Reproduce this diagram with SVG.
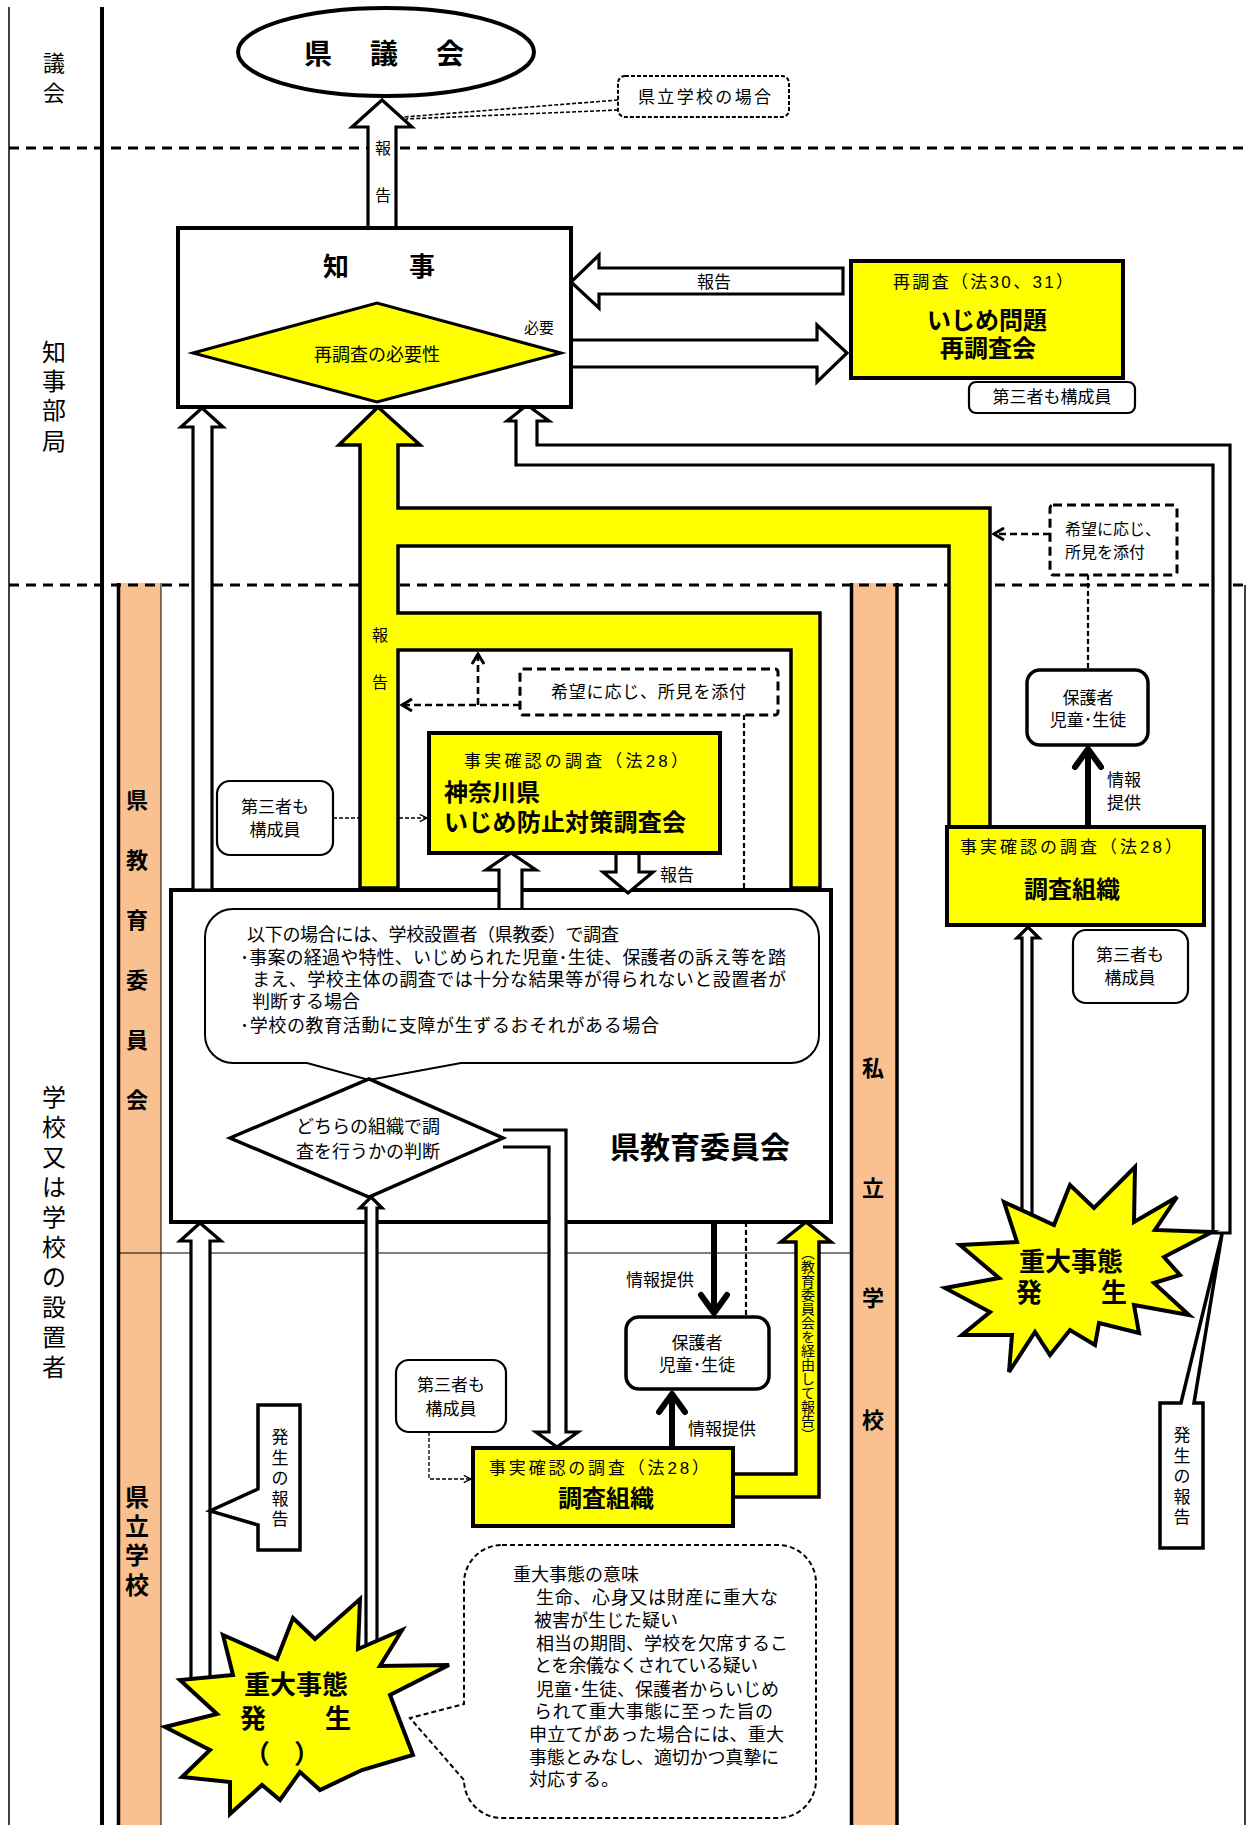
<svg xmlns="http://www.w3.org/2000/svg" width="1248" height="1825" viewBox="0 0 1248 1825">
<style>
.t{font-family:"Liberation Sans","Noto Sans CJK JP",sans-serif;fill:#000}
.b{font-weight:bold}
.box{fill:#fff;stroke:#000;stroke-width:4}
.yel{fill:#ffff00;stroke:#000;stroke-width:4}
.hol{fill:#fff;stroke:#000;stroke-width:3.2;stroke-linejoin:miter}
.ylp{fill:#ffff00;stroke:#000;stroke-width:3.5}
.rnd{fill:#fff;stroke:#000;stroke-width:2.2}
.lane{stroke:#000;stroke-width:3;stroke-dasharray:10 7;fill:none}
.dsh{fill:none;stroke:#000;stroke-width:2.6;stroke-dasharray:7 4}
.dshv{fill:none;stroke:#000;stroke-width:2.2;stroke-dasharray:5 3}
.thin{fill:none;stroke:#000;stroke-width:1.3;stroke-dasharray:4 2}
.thick{fill:none;stroke:#000;stroke-width:6}
.chev{fill:none;stroke:#000;stroke-width:6;stroke-linecap:round;stroke-linejoin:round}
.org{fill:#f9c18f}
</style>
<defs>
<marker id="ah" viewBox="0 0 10 10" refX="9" refY="5" markerWidth="9" markerHeight="9" orient="auto" markerUnits="userSpaceOnUse"><path d="M1,1 L9,5 L1,9" fill="none" stroke="#000" stroke-width="1.5"/></marker>
<marker id="ahd" viewBox="0 0 14 14" refX="12" refY="7" markerWidth="14" markerHeight="14" orient="auto" markerUnits="userSpaceOnUse"><path d="M2,1 L12,7 L2,13" fill="none" stroke="#000" stroke-width="3"/></marker>
</defs>
<rect width="1248" height="1825" fill="#fff"/>

<g id="lanes">
<rect class="org" x="117" y="583" width="44" height="1242"/>
<line x1="118.5" y1="583" x2="118.5" y2="1825" stroke="#000" stroke-width="3.5"/>
<line x1="161" y1="583" x2="161" y2="1825" stroke="#000" stroke-width="1"/>
<rect class="org" x="850" y="583" width="48" height="1242"/>
<line x1="851.5" y1="583" x2="851.5" y2="1825" stroke="#000" stroke-width="3.5"/>
<line x1="897" y1="583" x2="897" y2="1825" stroke="#000" stroke-width="3.5"/>
<line x1="9" y1="7" x2="9" y2="1825" stroke="#000" stroke-width="1.5"/>
<line x1="102" y1="7" x2="102" y2="1825" stroke="#000" stroke-width="4"/>
<line x1="1245" y1="585" x2="1245" y2="1825" stroke="#000" stroke-width="1.5"/>
<line class="lane" x1="9" y1="148" x2="1248" y2="148"/>
<line class="lane" x1="9" y1="585" x2="1248" y2="585"/>
<line x1="117" y1="1253" x2="850" y2="1253" stroke="#000" stroke-width="1.2"/>
<text class="t" font-size="22" x="54 54" y="71 101" text-anchor="middle">議会</text>
<text class="t" font-size="24" x="54 54 54 54" y="361 390 419 450" text-anchor="middle">知事部局</text>
<text class="t" font-size="24" x="54 54 54 54 54 54 54 54 54 54" y="1106 1136 1166 1196 1226 1256 1286 1316 1346 1376" text-anchor="middle">学校又は学校の設置者</text>
<text class="t b" font-size="22" x="137 137 137 137 137 137" y="808 868 928 988 1048 1108" text-anchor="middle">県教育委員会</text>
<text class="t b" font-size="24" x="137 137 137 137" y="1506 1535 1564 1594" text-anchor="middle">県立学校</text>
<text class="t b" font-size="22" x="873 873 873 873" y="1076 1196 1306 1428" text-anchor="middle">私立学校</text>
</g>

<g id="edboard">
<rect class="box" x="171" y="890" width="660" height="332"/>
<text class="t b" font-size="30" x="700" y="1158" text-anchor="middle">県教育委員会</text>
</g>

<g id="connectors">
<path class="thin" d="M333,818 H427" marker-end="url(#ah)"/>
<path class="thin" d="M429,1432 V1479 H471" marker-end="url(#ah)"/>
<polygon class="ylp" points="378,407 420,445 398,445 398,508 990,508 990,827 949,827 949,546 398,546 398,613 820,613 820,888 791,888 791,650 398,650 398,888 360,888 360,445 339,445"/>
<polygon class="hol" points="368,228 368,127 352,127 382,100 412,127 396,127 396,228"/>
<polygon class="hol" points="843,268 599,268 599,255 571,282 599,308 599,294 843,294"/>
<polygon class="hol" points="571,340 817,340 817,325 847,353 817,382 817,367 571,367"/>
<polygon class="hol" points="193,890 193,427 181,427 202,408 223,427 212,427 212,890"/>
<polygon class="hol" points="516,465 516,421 507,421 527,405 549,421 537,421 537,445 1230,445 1230,1233 1213,1233 1213,465"/>
<polygon class="hol" points="499,912 499,870 486,870 511,853 536,870 522,870 522,912"/>
<polygon class="hol" points="616,853 616,872 603,872 628,893 653,872 639,872 639,853"/>
<polygon class="hol" points="191,1690 191,1241 180,1241 200,1223 221,1241 210,1241 210,1690"/>
<polygon class="hol" points="1022,1228 1022,938 1017,938 1028,927 1039,938 1032,938 1032,1228"/>
<path class="ylp" d="M733,1474 H796 V1242 H781 L806,1222 L831,1242 H819 V1497 H733"/>
<path class="dsh" d="M520,705 H402" marker-end="url(#ahd)"/>
<path class="dsh" d="M478,705 V654" marker-end="url(#ahd)"/>
<path class="dsh" d="M1050,534 H994" marker-end="url(#ahd)"/>
<path class="dshv" d="M744,715 V888"/>
<path class="dshv" d="M746,1222 V1317"/>
<path class="dshv" d="M1088,575 V670"/>
<line class="thick" x1="714" y1="1224" x2="714" y2="1310"/>
<polyline class="chev" points="701,1295 714,1313 727,1295"/>
<line class="thick" x1="1088" y1="825" x2="1088" y2="752"/>
<polyline class="chev" points="1075,767 1088,749 1101,767"/>
<line class="thick" x1="672" y1="1446" x2="672" y2="1397"/>
<polyline class="chev" points="659,1412 672,1394 685,1412"/>
<path d="M618,100 L404,117 M618,110 L406,119" fill="none" stroke="#000" stroke-width="1.6" stroke-dasharray="4 2"/>
<text class="t" font-size="16" x="383 383" y="154 201" text-anchor="middle">報告</text>
<text class="t" font-size="17" x="714" y="288" text-anchor="middle">報告</text>
<text class="t" font-size="16" x="380 380" y="641 688" text-anchor="middle">報告</text>
<text class="t" font-size="17" x="677" y="881" text-anchor="middle">報告</text>
<text class="t" font-size="17" x="1107" y="786">情報</text>
<text class="t" font-size="17" x="1107" y="809">提供</text>
<text class="t" font-size="17" x="660" y="1286" text-anchor="middle">情報提供</text>
<text class="t" font-size="17" x="722" y="1435" text-anchor="middle">情報提供</text>
<text class="t" font-size="14" x="807" y="1246" style="writing-mode:vertical-rl">（教育委員会を経由して報告）</text>
</g>

<g id="council">
<ellipse cx="386" cy="52" rx="148" ry="44" fill="#fff" stroke="#000" stroke-width="4"/>
<text class="t b" font-size="28" x="318 384 450" y="64 64 64" text-anchor="middle">県議会</text>
</g>

<g id="note-prefschool">
<rect x="618" y="76" width="171" height="41" rx="7" fill="#fff" stroke="#000" stroke-width="2" stroke-dasharray="4 2"/>
<text class="t" font-size="17" x="638" y="103" textLength="133">県立学校の場合</text>
</g>

<g id="governor">
<rect class="box" x="178" y="228" width="393" height="179"/>
<text class="t b" font-size="26" x="336 422" y="276 276" text-anchor="middle">知事</text>
<polygon points="193,353 377,303 561,353 377,402" fill="#ffff00" stroke="#000" stroke-width="3"/>
<text class="t" font-size="18" x="377" y="361" text-anchor="middle">再調査の必要性</text>
<text class="t" font-size="15" x="539" y="333" text-anchor="middle">必要</text>
</g>

<g id="reinvestigation">
<rect class="yel" x="851" y="261" width="272" height="117"/>
<text class="t" font-size="17" x="893" y="288" textLength="180">再調査（法30、31）</text>
<text class="t b" font-size="24" x="987" y="329" text-anchor="middle">いじめ問題</text>
<text class="t b" font-size="24" x="988" y="357" text-anchor="middle">再調査会</text>
</g>

<g id="third-party-top">
<rect class="rnd" x="969" y="382" width="166" height="31" rx="7"/>
<text class="t" font-size="17" x="1052" y="403" text-anchor="middle">第三者も構成員</text>
</g>

<g id="opinion-right">
<rect x="1050" y="505" width="127" height="70" rx="3" fill="#fff" stroke="#000" stroke-width="3" stroke-dasharray="9 5"/>
<text class="t" font-size="16" x="1065" y="535">希望に応じ、</text>
<text class="t" font-size="16" x="1065" y="558">所見を添付</text>
</g>

<g id="opinion-mid">
<rect x="520" y="669" width="258" height="46" rx="3" fill="#fff" stroke="#000" stroke-width="3" stroke-dasharray="9 5"/>
<text class="t" font-size="17" x="551" y="698" textLength="195">希望に応じ、所見を添付</text>
</g>

<g id="kanagawa-committee">
<rect class="yel" x="429" y="733" width="291" height="120"/>
<text class="t" font-size="17" x="464" y="767" textLength="224">事実確認の調査（法28）</text>
<text class="t b" font-size="24" x="444" y="801">神奈川県</text>
<text class="t b" font-size="24" x="444" y="831" textLength="242">いじめ防止対策調査会</text>
</g>

<g id="third-party-left">
<rect class="rnd" x="217" y="781" width="116" height="74" rx="13"/>
<text class="t" font-size="17" x="275" y="813" text-anchor="middle">第三者も</text>
<text class="t" font-size="17" x="275" y="836" text-anchor="middle">構成員</text>
</g>

<g id="guardian-right">
<rect x="1027" y="670" width="121" height="75" rx="13" fill="#fff" stroke="#000" stroke-width="3.5"/>
<text class="t" font-size="17" x="1088" y="704" text-anchor="middle">保護者</text>
<text class="t" font-size="17" x="1088" y="726" text-anchor="middle">児童･生徒</text>
</g>

<g id="private-org">
<rect class="yel" x="947" y="827" width="257" height="98"/>
<text class="t" font-size="17" x="960" y="853" textLength="222">事実確認の調査（法28）</text>
<text class="t b" font-size="24" x="1072" y="898" text-anchor="middle">調査組織</text>
</g>

<g id="third-party-right">
<rect class="rnd" x="1073" y="930" width="115" height="73" rx="13"/>
<text class="t" font-size="17" x="1130" y="961" text-anchor="middle">第三者も</text>
<text class="t" font-size="17" x="1130" y="984" text-anchor="middle">構成員</text>
</g>

<g id="conditions">
<path d="M233,909 H791 A28,28 0 0 1 819,937 V1035 A28,28 0 0 1 791,1063 H461 L369,1080 L307,1063 H233 A28,28 0 0 1 205,1035 V937 A28,28 0 0 1 233,909 Z" fill="#fff" stroke="#000" stroke-width="2"/>
<text class="t" font-size="18" x="247" y="941" textLength="372">以下の場合には、学校設置者（県教委）で調査</text>
<text class="t" font-size="18" x="240" y="964" textLength="546">･事案の経過や特性、いじめられた児童･生徒、保護者の訴え等を踏</text>
<text class="t" font-size="18" x="252" y="986" textLength="534">まえ、学校主体の調査では十分な結果等が得られないと設置者が</text>
<text class="t" font-size="18" x="252" y="1008">判断する場合</text>
<text class="t" font-size="18" x="240" y="1032" textLength="419">･学校の教育活動に支障が生ずるおそれがある場合</text>
</g>

<g id="school-pipe">
<path class="hol" d="M503,1130 H566 V1432 H578 L557,1447 L536,1432 H549 V1147 H503"/>
</g>

<g id="decision">
<polygon points="230,1138 369,1079 503,1138 369,1197" fill="#fff" stroke="#000" stroke-width="3.5"/>
<text class="t" font-size="18" x="368" y="1133" text-anchor="middle">どちらの組織で調</text>
<text class="t" font-size="18" x="368" y="1158" text-anchor="middle">査を行うかの判断</text>
</g>

<g id="arrow-to-decision">
<polygon class="hol" points="366,1660 366,1208 360,1208 371,1197 382,1208 377,1208 377,1660"/>
</g>

<g id="guardian-lower">
<rect x="626" y="1317" width="143" height="72" rx="13" fill="#fff" stroke="#000" stroke-width="3.5"/>
<text class="t" font-size="17" x="697" y="1349" text-anchor="middle">保護者</text>
<text class="t" font-size="17" x="697" y="1371" text-anchor="middle">児童･生徒</text>
</g>

<g id="third-party-lower">
<rect class="rnd" x="396" y="1360" width="110" height="72" rx="13"/>
<text class="t" font-size="17" x="451" y="1391" text-anchor="middle">第三者も</text>
<text class="t" font-size="17" x="451" y="1415" text-anchor="middle">構成員</text>
</g>

<g id="school-org">
<rect class="yel" x="473" y="1448" width="260" height="78"/>
<text class="t" font-size="17" x="489" y="1474" textLength="220">事実確認の調査（法28）</text>
<text class="t b" font-size="24" x="606" y="1507" text-anchor="middle">調査組織</text>
</g>

<g id="report-left">
<polygon points="258,1405 300,1405 300,1550 258,1550 258,1525 210,1511 258,1489" fill="#fff" stroke="#000" stroke-width="3.5"/>
<text class="t" font-size="17" x="280 280 280 280 280" y="1443 1464 1484 1505 1525" text-anchor="middle">発生の報告</text>
</g>

<g id="report-right">
<polygon points="1160,1403 1181,1403 1222,1234 1194,1403 1203,1403 1203,1548 1160,1548" fill="#fff" stroke="#000" stroke-width="3.5"/>
<text class="t" font-size="17" x="1182 1182 1182 1182 1182" y="1441 1462 1482 1503 1523" text-anchor="middle">発生の報告</text>
</g>

<g id="meaning">
<path d="M502,1545 H778 A38,38 0 0 1 816,1583 V1780 A38,38 0 0 1 778,1818 H502 A38,38 0 0 1 464,1780 L410,1718 L464,1704 V1583 A38,38 0 0 1 502,1545 Z" fill="#fff" stroke="#000" stroke-width="2" stroke-dasharray="5 3"/>
<text class="t" font-size="18" x="513" y="1581">重大事態の意味</text>
<text class="t" font-size="18" x="536" y="1604" textLength="242">生命、心身又は財産に重大な</text>
<text class="t" font-size="18" x="534" y="1627">被害が生じた疑い</text>
<text class="t" font-size="18" x="536" y="1650" textLength="252">相当の期間、学校を欠席するこ</text>
<text class="t" font-size="18" x="534" y="1672" textLength="224">とを余儀なくされている疑い</text>
<text class="t" font-size="18" x="536" y="1696" textLength="243">児童･生徒、保護者からいじめ</text>
<text class="t" font-size="18" x="534" y="1718" textLength="239">られて重大事態に至った旨の</text>
<text class="t" font-size="18" x="529" y="1741" textLength="255">申立てがあった場合には、重大</text>
<text class="t" font-size="18" x="529" y="1764" textLength="250">事態とみなし、適切かつ真摯に</text>
<text class="t" font-size="18" x="529" y="1786">対応する。</text>
</g>

<g id="incident-public">
<polygon points="223,1635 277,1659 293,1618 315,1639 360,1599 358,1649 402,1630 380,1666 449,1665 390,1695 413,1755 362,1770 320,1790 300,1772 280,1800 262,1785 230,1814 230,1782 182,1777 210,1750 165,1727 217,1714 180,1680 233,1675" fill="#ffff00" stroke="#000" stroke-width="4" stroke-linejoin="miter"/>
<text class="t b" font-size="26" x="296" y="1694" text-anchor="middle">重大事態</text>
<text class="t b" font-size="26" x="253 338" y="1728 1728" text-anchor="middle">発生</text>
<text class="t b" font-size="26" x="257 307" y="1763 1763" text-anchor="middle">（）</text>
</g>

<g id="incident-private">
<polygon points="1004,1202 1054,1225 1070,1185 1094,1208 1135,1167 1134,1222 1177,1197 1155,1230 1212,1232 1164,1257 1180,1275 1154,1283 1189,1315 1134,1305 1139,1333 1099,1323 1095,1345 1070,1330 1050,1355 1035,1332 1009,1372 1012,1335 962,1335 990,1312 945,1288 999,1278 960,1245 1017,1242" fill="#ffff00" stroke="#000" stroke-width="4" stroke-linejoin="miter"/>
<text class="t b" font-size="26" x="1071" y="1271" text-anchor="middle">重大事態</text>
<text class="t b" font-size="26" x="1029 1114" y="1302 1302" text-anchor="middle">発生</text>
</g>
</svg>
